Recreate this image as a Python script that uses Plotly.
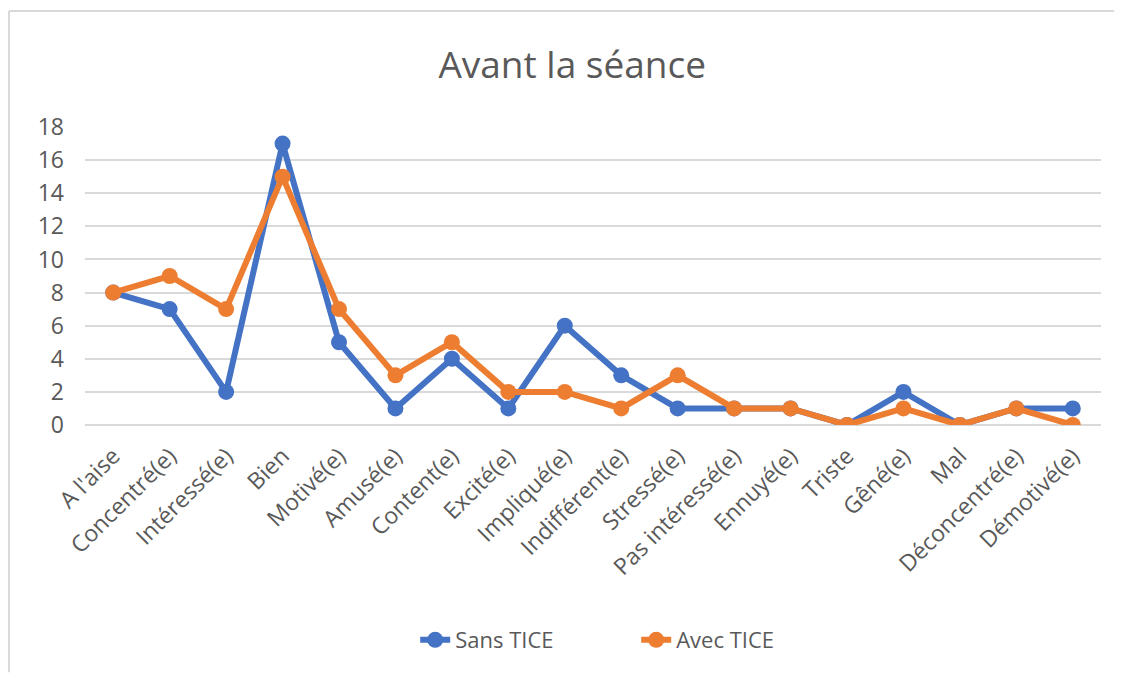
import plotly.graph_objects as go

# Data
categories = [
    "A l'aise", "Concentré(e)", "Intéressé(e)", "Bien", "Motivé(e)", "Amusé(e)",
    "Content(e)", "Excité(e)", "Impliqué(e)", "Indifférent(e)", "Stressé(e)",
    "Pas intéressé(e)", "Ennuyé(e)", "Triste", "Gêné(e)", "Mal",
    "Déconcentré(e)", "Démotivé(e)",
]
sans_tice = [8, 7, 2, 17, 5, 1, 4, 1, 6, 3, 1, 1, 1, 0, 2, 0, 1, 1]
avec_tice = [8, 9, 7, 15, 7, 3, 5, 2, 2, 1, 3, 1, 1, 0, 1, 0, 1, 0]
y_ticks = [0, 2, 4, 6, 8, 10, 12, 14, 16, 18]

FONT = "Open Sans, Liberation Sans, sans-serif"
GREY = "#595959"
FRAME = "#D9D9D9"

fig = go.Figure()

for name, values, color in [("Sans TICE", sans_tice, "#4472C4"),
                            ("Avec TICE", avec_tice, "#ED7D31")]:
    fig.add_trace(go.Scatter(
        x=categories,
        y=values,
        mode="lines+markers",
        name=name,
        line=dict(color=color, width=6),
        marker=dict(color=color, size=16),
    ))

# chart frame: only the top and left edges show in the screenshot
fig.add_shape(type="line", xref="paper", yref="paper",
              x0=-0.0748, x1=1.013, y0=1.389, y1=1.389,
              line=dict(color=FRAME, width=2), layer="below")
fig.add_shape(type="line", xref="paper", yref="paper",
              x0=-0.0748, x1=-0.0748, y0=1.389, y1=-0.83,
              line=dict(color=FRAME, width=2), layer="below")

# page body has an 8px margin, so the figure is 16px smaller than the window
fig.update_layout(
    width=1107,
    height=665,
    margin=dict(l=77, r=14, t=119, b=248),
    paper_bgcolor="white",
    plot_bgcolor="white",
    font=dict(family=FONT, size=22, color=GREY),
    title=dict(text="Avant la séance", x=0.5097, xanchor="center",
               y=0.914, yanchor="middle",
               font=dict(family=FONT, size=37, color=GREY)),
    showlegend=True,
    legend=dict(orientation="h", x=0.325, xanchor="left",
                y=-0.7215, yanchor="middle",
                entrywidth=176, entrywidthmode="pixels",
                font=dict(family=FONT, size=22, color=GREY)),
)

fig.update_xaxes(
    type="category",
    range=[-0.5, len(categories) - 0.5],
    tickangle=-45,
    showgrid=False,
    showline=False,
    zeroline=False,
    ticks="",
    ticklabelstandoff=12,
    tickfont=dict(size=23, color=GREY),
)

fig.update_yaxes(
    range=[0, 18],
    tickvals=y_ticks,
    showgrid=True,
    gridcolor=FRAME,
    gridwidth=2,
    zeroline=True,
    zerolinecolor=FRAME,
    zerolinewidth=2,
    showline=False,
    ticks="",
    ticklabelstandoff=20,
    tickfont=dict(size=23, color=GREY),
)

fig.write_html("out.html")
